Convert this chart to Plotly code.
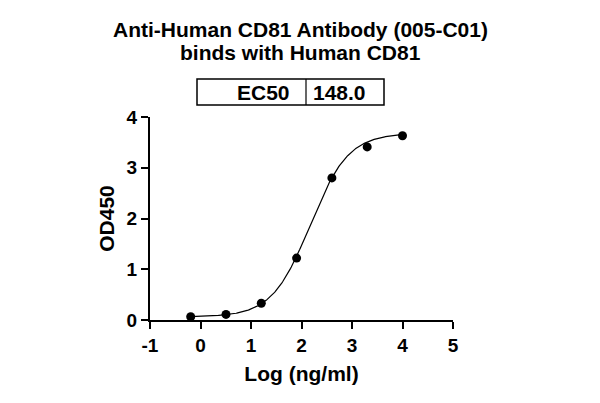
import numpy as np
import plotly.graph_objects as go

# Data
log_conc = [-0.194, 0.505, 1.204, 1.903, 2.602, 3.301, 4.0]
od450 = [0.065, 0.11, 0.33, 1.22, 2.80, 3.41, 3.63]

# 4PL fit parameters
ec50 = 148.0
fit_bottom = 0.06
fit_top = 3.68
fit_hill = 1.15

x_ticks = [-1, 0, 1, 2, 3, 4, 5]
y_ticks = [0, 1, 2, 3, 4]

title_lines = ["Anti-Human CD81 Antibody (005-C01)", "binds with Human CD81"]

xc = np.linspace(min(log_conc), max(log_conc), 300)
yc = fit_bottom + (fit_top - fit_bottom) / (1 + 10 ** ((np.log10(ec50) - xc) * fit_hill))

FONT = "Arial, Liberation Sans, sans-serif"

fig = go.Figure()
fig.add_trace(go.Scatter(x=xc, y=yc, mode="lines", line=dict(color="black", width=1.2),
                         hoverinfo="skip", showlegend=False, cliponaxis=False))
fig.add_trace(go.Scatter(x=log_conc, y=od450, mode="markers",
                         marker=dict(color="black", size=9), showlegend=False, cliponaxis=False))

L, R, T, B = 150, 147, 117, 83
W, H = 600, 403
pw, ph = W - L - R, H - T - B

def px(x):
    return (x - L) / pw

def py(y):
    return (H - B - y) / ph

fig.update_layout(
    width=W, height=H,
    margin=dict(l=L, r=R, t=T, b=B),
    paper_bgcolor="white", plot_bgcolor="white",
    font=dict(family=FONT, color="black"),
    xaxis=dict(range=[-1, 5], tickvals=x_ticks, ticktext=[str(v) for v in x_ticks],
               showline=True, linecolor="black", linewidth=2, ticks="outside",
               ticklen=7, tickwidth=2, tickcolor="black", showgrid=False, zeroline=False,
               tickfont=dict(size=19, family=FONT, weight="bold"),
               title=dict(text="Log (ng/ml)", font=dict(size=21, family=FONT, weight="bold"), standoff=12)),
    yaxis=dict(range=[0, 4], tickvals=y_ticks, ticktext=[str(v) for v in y_ticks],
               showline=True, linecolor="black", linewidth=2, ticks="outside",
               ticklen=7, tickwidth=2, tickcolor="black", showgrid=False, zeroline=False,
               tickfont=dict(size=19, family=FONT, weight="bold"),
               title=dict(text="OD450", font=dict(size=21, family=FONT, weight="bold"), standoff=6)),
)

# Title
for i, (txt, yy) in enumerate(zip(title_lines, [29, 53])):
    fig.add_annotation(text=txt, xref="paper", yref="paper", x=px(300), y=py(yy),
                       xanchor="center", yanchor="middle", showarrow=False,
                       font=dict(size=21, family=FONT, weight="bold"))

# EC50 table
bx0, bx1, bxm, by0, by1 = 197, 384, 306, 79, 105
fig.add_shape(type="rect", xref="paper", yref="paper", x0=px(bx0), x1=px(bx1), y0=py(by1), y1=py(by0),
              line=dict(color="black", width=1.5))
fig.add_shape(type="line", xref="paper", yref="paper", x0=px(bxm), x1=px(bxm), y0=py(by1), y1=py(by0),
              line=dict(color="black", width=1.2))
fig.add_annotation(text="EC50", xref="paper", yref="paper", x=px(bxm - 14), y=py((by0 + by1) / 2),
                   xanchor="right", yanchor="middle", showarrow=False,
                   font=dict(size=21, family=FONT, weight="bold"))
fig.add_annotation(text=f"{ec50:.1f}", xref="paper", yref="paper", x=px(bxm + 5), y=py((by0 + by1) / 2),
                   xanchor="left", yanchor="middle", showarrow=False,
                   font=dict(size=21, family=FONT, weight="bold"))

fig.write_html("out.html", config={"displayModeBar": False},
               post_script="document.body.style.margin='0';document.body.style.padding='0';")
